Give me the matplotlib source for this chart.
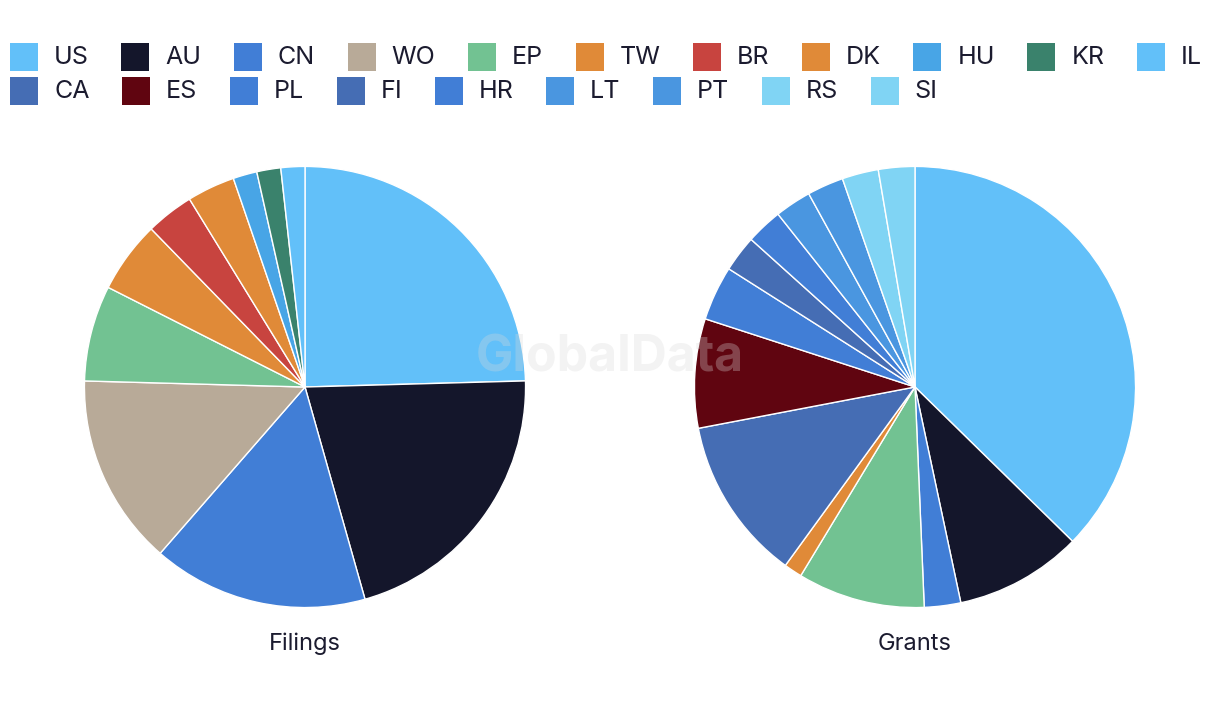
import matplotlib
matplotlib.use('Agg')
import matplotlib.pyplot as plt
from matplotlib.patches import Rectangle

# ---- data ----
countries = ['US', 'AU', 'CN', 'WO', 'EP', 'TW', 'BR', 'DK', 'HU', 'KR', 'IL',
             'CA', 'ES', 'PL', 'FI', 'HR', 'LT', 'PT', 'RS', 'SI']
colors = ['#62c0f9', '#14162b', '#417ed6', '#b8aa98', '#72c292', '#e08a38',
          '#c8443f', '#e08a38', '#48a5e6', '#3a826c', '#62c0f9',
          '#456db4', '#600510', '#417ed6', '#456db4', '#417ed6', '#4a96e0',
          '#4a96e0', '#80d4f4', '#80d4f4']
filings = [14, 12, 9, 8, 4, 3, 2, 2, 1, 1, 1, 0, 0, 0, 0, 0, 0, 0, 0, 0]
grants = [28, 7, 2, 0, 7, 1, 0, 0, 0, 0, 0, 9, 6, 3, 2, 2, 2, 2, 2, 2]
pie_titles = ['Filings', 'Grants']
legend_rows = [11, 9]

# ---- layout ----
W, H = 1220, 720
TEXT = '#1b1b2f'
plt.rcParams['font.family'] = ['Inter', 'DejaVu Sans']
fig = plt.figure(figsize=(W / 100, H / 100), dpi=100)
fig.patch.set_facecolor('white')


def px_axes(cx, cy, r):
    return fig.add_axes([(cx - r) / W, (H - cy - r) / H, 2 * r / W, 2 * r / H])


centers = [(305, 387), (915, 387)]
radius = 221
for (cx, cy), vals, title in zip(centers, [filings, grants], pie_titles):
    ax = px_axes(cx, cy, radius)
    v = [x for x in vals if x > 0]
    c = [col for x, col in zip(vals, colors) if x > 0]
    ax.pie(v, colors=c, startangle=90, counterclock=False, radius=1,
           wedgeprops=dict(edgecolor='white', linewidth=1.0))
    ax.set_xlim(-1.002, 1.002)
    ax.set_ylim(-1.002, 1.002)
    ax.set_aspect('equal')
    ax.axis('off')
    fig.text(cx / W, 1 - 644 / H, title, fontsize=17, color=TEXT,
             ha='center', va='center')

# watermark
fig.text(610 / W, 1 - 358 / H, 'GlobalData', fontsize=36, weight='bold',
         color='#d8d8d8', alpha=0.3, ha='center', va='center', zorder=10)

# ---- legend (flow layout) ----
lax = fig.add_axes([0, 0, 1, 1])
lax.set_xlim(0, W)
lax.set_ylim(H, 0)
lax.axis('off')
renderer = fig.canvas.get_renderer()
sw_w, sw_h = 28, 27.5
row_y = [57, 91]
idx = 0
for r, n in enumerate(legend_rows):
    x = 10
    for k in range(n):
        name = countries[idx]
        col = colors[idx]
        lax.add_patch(Rectangle((x, row_y[r] - sw_h / 2), sw_w, sw_h,
                                facecolor=col, edgecolor='none'))
        t = lax.text(x + 44, row_y[r] + 1, name, fontsize=18, color=TEXT,
                     ha='left', va='center')
        wpx = t.get_window_extent(renderer).width
        x = x + 44 + wpx + 32.5
        idx += 1

fig.savefig('out.png', dpi=100, facecolor='white')
